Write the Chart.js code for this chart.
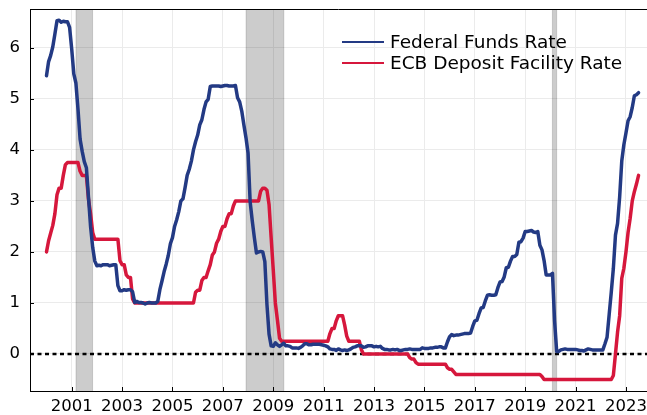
<!DOCTYPE html>
<html>
<head>
<meta charset="utf-8">
<script src="https://cdn.jsdelivr.net/npm/chart.js@4"></script>
<style>
  html, body { margin: 0; padding: 0; background: #fff; }
  #wrap { width: 647px; height: 415px; position: relative; }
</style>
</head>
<body>
<div id="wrap"><canvas id="rates"></canvas></div>
<script>
// Monthly averages, Jan 2000 .. Jul 2023
const startYear = 2000;

const fedFunds = [
    5.45, 5.73, 5.85, 6.02, 6.27, 6.53, 6.54, 6.50, 6.52, 6.51, 6.51, 6.40, // 2000
    5.98, 5.49, 5.31, 4.80, 4.21, 3.97, 3.77, 3.65, 3.07, 2.49, 2.09, 1.82, // 2001
    1.73, 1.74, 1.73, 1.75, 1.75, 1.75, 1.73, 1.74, 1.75, 1.75, 1.34, 1.24, // 2002
    1.24, 1.26, 1.25, 1.26, 1.26, 1.22, 1.01, 1.03, 1.01, 1.01, 1.00, 0.98, // 2003
    1.00, 1.01, 1.00, 1.00, 1.00, 1.03, 1.26, 1.43, 1.61, 1.76, 1.93, 2.16, // 2004
    2.28, 2.50, 2.63, 2.79, 3.00, 3.04, 3.26, 3.50, 3.62, 3.78, 4.00, 4.16, // 2005
    4.29, 4.49, 4.59, 4.79, 4.94, 4.99, 5.24, 5.25, 5.25, 5.25, 5.25, 5.24, // 2006
    5.25, 5.26, 5.26, 5.25, 5.25, 5.25, 5.26, 5.02, 4.94, 4.76, 4.49, 4.24, // 2007
    3.94, 2.98, 2.61, 2.28, 1.98, 2.00, 2.01, 2.00, 1.81, 0.97, 0.39, 0.16, // 2008
    0.15, 0.22, 0.18, 0.15, 0.18, 0.21, 0.16, 0.16, 0.15, 0.12, 0.12, 0.12, // 2009
    0.11, 0.13, 0.16, 0.20, 0.20, 0.18, 0.18, 0.19, 0.19, 0.19, 0.19, 0.18, // 2010
    0.17, 0.16, 0.14, 0.10, 0.09, 0.09, 0.07, 0.10, 0.08, 0.07, 0.08, 0.07, // 2011
    0.08, 0.10, 0.13, 0.14, 0.16, 0.16, 0.16, 0.13, 0.14, 0.16, 0.16, 0.16, // 2012
    0.14, 0.15, 0.14, 0.15, 0.11, 0.09, 0.09, 0.08, 0.08, 0.09, 0.08, 0.09, // 2013
    0.07, 0.07, 0.08, 0.09, 0.09, 0.10, 0.09, 0.09, 0.09, 0.09, 0.09, 0.12, // 2014
    0.11, 0.11, 0.11, 0.12, 0.12, 0.13, 0.13, 0.14, 0.14, 0.12, 0.12, 0.24, // 2015
    0.34, 0.38, 0.36, 0.37, 0.37, 0.38, 0.39, 0.40, 0.40, 0.40, 0.41, 0.54, // 2016
    0.65, 0.66, 0.79, 0.90, 0.91, 1.04, 1.15, 1.16, 1.15, 1.15, 1.16, 1.30, // 2017
    1.41, 1.42, 1.51, 1.69, 1.70, 1.82, 1.91, 1.91, 1.95, 2.19, 2.20, 2.27, // 2018
    2.40, 2.40, 2.41, 2.42, 2.39, 2.38, 2.40, 2.13, 2.04, 1.83, 1.55, 1.55, // 2019
    1.55, 1.58, 0.65, 0.05, 0.05, 0.08, 0.09, 0.10, 0.09, 0.09, 0.09, 0.09, // 2020
    0.09, 0.08, 0.07, 0.07, 0.06, 0.08, 0.10, 0.09, 0.08, 0.08, 0.08, 0.08, // 2021
    0.08, 0.08, 0.20, 0.33, 0.77, 1.21, 1.68, 2.33, 2.56, 3.08, 3.78, 4.10, // 2022
    4.33, 4.57, 4.65, 4.83, 5.06, 5.08, 5.12                                // 2023
];

const ecbDeposit = [
    2.00, 2.22, 2.37, 2.52, 2.75, 3.12, 3.25, 3.25, 3.50, 3.71, 3.75, 3.75, // 2000
    3.75, 3.75, 3.75, 3.75, 3.58, 3.50, 3.50, 3.49, 3.03, 2.75, 2.38, 2.25, // 2001
    2.25, 2.25, 2.25, 2.25, 2.25, 2.25, 2.25, 2.25, 2.25, 2.25, 2.25, 1.83, // 2002
    1.75, 1.75, 1.55, 1.50, 1.50, 1.08, 1.00, 1.00, 1.00, 1.00, 1.00, 1.00, // 2003
    1.00, 1.00, 1.00, 1.00, 1.00, 1.00, 1.00, 1.00, 1.00, 1.00, 1.00, 1.00, // 2004
    1.00, 1.00, 1.00, 1.00, 1.00, 1.00, 1.00, 1.00, 1.00, 1.00, 1.00, 1.21, // 2005
    1.25, 1.25, 1.44, 1.50, 1.50, 1.63, 1.75, 1.94, 2.00, 2.17, 2.25, 2.40, // 2006
    2.50, 2.50, 2.65, 2.75, 2.75, 2.90, 3.00, 3.00, 3.00, 3.00, 3.00, 3.00, // 2007
    3.00, 3.00, 3.00, 3.00, 3.00, 3.00, 3.19, 3.25, 3.25, 3.21, 2.93, 2.28, // 2008
    1.65, 1.00, 0.66, 0.31, 0.25, 0.25, 0.25, 0.25, 0.25, 0.25, 0.25, 0.25, // 2009
    0.25, 0.25, 0.25, 0.25, 0.25, 0.25, 0.25, 0.25, 0.25, 0.25, 0.25, 0.25, // 2010
    0.25, 0.25, 0.25, 0.40, 0.50, 0.50, 0.65, 0.75, 0.75, 0.75, 0.57, 0.35, // 2011
    0.25, 0.25, 0.25, 0.25, 0.25, 0.25, 0.08, 0.00, 0.00, 0.00, 0.00, 0.00, // 2012
    0.00, 0.00, 0.00, 0.00, 0.00, 0.00, 0.00, 0.00, 0.00, 0.00, 0.00, 0.00, // 2013
    0.00, 0.00, 0.00, 0.00, 0.00, -0.07, -0.10, -0.10, -0.17, -0.20, -0.20, -0.20, // 2014
    -0.20, -0.20, -0.20, -0.20, -0.20, -0.20, -0.20, -0.20, -0.20, -0.20, -0.20, -0.27, // 2015
    -0.30, -0.30, -0.35, -0.40, -0.40, -0.40, -0.40, -0.40, -0.40, -0.40, -0.40, -0.40, // 2016
    -0.40, -0.40, -0.40, -0.40, -0.40, -0.40, -0.40, -0.40, -0.40, -0.40, -0.40, -0.40, // 2017
    -0.40, -0.40, -0.40, -0.40, -0.40, -0.40, -0.40, -0.40, -0.40, -0.40, -0.40, -0.40, // 2018
    -0.40, -0.40, -0.40, -0.40, -0.40, -0.40, -0.40, -0.40, -0.44, -0.50, -0.50, -0.50, // 2019
    -0.50, -0.50, -0.50, -0.50, -0.50, -0.50, -0.50, -0.50, -0.50, -0.50, -0.50, -0.50, // 2020
    -0.50, -0.50, -0.50, -0.50, -0.50, -0.50, -0.50, -0.50, -0.50, -0.50, -0.50, -0.50, // 2021
    -0.50, -0.50, -0.50, -0.50, -0.50, -0.50, -0.42, 0.00, 0.43, 0.75, 1.48, 1.68, // 2022
    2.00, 2.38, 2.66, 3.00, 3.18, 3.33, 3.50                                // 2023
];

// US recessions (NBER), as decimal years
const recessions = [[2001.17, 2001.83], [2007.92, 2009.42], [2020.08, 2020.25]];

const xTicks = [2001, 2003, 2005, 2007, 2009, 2011, 2013, 2015, 2017, 2019, 2021, 2023];
const yTicks = [0, 1, 2, 3, 4, 5, 6];

const fedColor = '#233a84';
const ecbColor = '#d6173c';
const font = "'DejaVu Sans', sans-serif";

function toPoints(values) {
    return values.map((v, i) => ({ x: startYear + i / 12, y: v }));
}

// Recession bands and the dotted zero line go under the series
const underlayPlugin = {
    id: 'underlay',
    beforeDatasetsDraw(chart) {
        const { ctx, chartArea: a, scales: { x, y } } = chart;
        ctx.save();
        ctx.beginPath();
        ctx.rect(a.left, a.top, a.right - a.left, a.bottom - a.top);
        ctx.clip();

        recessions.forEach(([from, to]) => {
            const x0 = x.getPixelForValue(from);
            const x1 = x.getPixelForValue(to);
            ctx.fillStyle = 'rgba(0, 0, 0, 0.2)';
            ctx.fillRect(x0, a.top, x1 - x0, a.bottom - a.top);
            ctx.strokeStyle = 'rgba(0, 0, 0, 0.15)';
            ctx.lineWidth = 1;
            ctx.beginPath();
            ctx.moveTo(x0, a.top); ctx.lineTo(x0, a.bottom);
            ctx.moveTo(x1, a.top); ctx.lineTo(x1, a.bottom);
            ctx.stroke();
        });

        const y0 = y.getPixelForValue(0);
        ctx.strokeStyle = '#000';
        ctx.lineWidth = 2.5;
        ctx.setLineDash([4, 3.5]);
        ctx.beginPath();
        ctx.moveTo(a.left, y0);
        ctx.lineTo(a.right, y0);
        ctx.stroke();
        ctx.restore();
    }
};

// Top frame, inside tick marks and the legend
const overlayPlugin = {
    id: 'overlay',
    afterDraw(chart) {
        const { ctx, chartArea: a, scales: { x, y } } = chart;
        ctx.save();
        ctx.strokeStyle = '#000';
        ctx.lineWidth = 1;
        ctx.beginPath();
        ctx.moveTo(a.left, a.top + 0.5);
        ctx.lineTo(a.right, a.top + 0.5);
        xTicks.forEach(t => {
            const px = Math.round(x.getPixelForValue(t)) + 0.5;
            ctx.moveTo(px, a.bottom);
            ctx.lineTo(px, a.bottom - 4);
        });
        yTicks.forEach(t => {
            const py = Math.round(y.getPixelForValue(t)) + 0.5;
            ctx.moveTo(a.left, py);
            ctx.lineTo(a.left + 4, py);
        });
        ctx.stroke();

        // legend
        ctx.font = '18.5px ' + font;
        ctx.textBaseline = 'middle';
        ctx.fillStyle = '#000';
        chart.data.datasets.forEach((ds, i) => {
            const ly = 42 + i * 21;
            ctx.strokeStyle = ds.borderColor;
            ctx.lineWidth = 2;
            ctx.beginPath();
            ctx.moveTo(342, ly);
            ctx.lineTo(384, ly);
            ctx.stroke();
            ctx.fillText(ds.label, 390, ly + 1);
        });
        ctx.restore();
    }
};

new Chart(document.getElementById('rates'), {
    type: 'line',
    data: {
        datasets: [
            {
                label: 'Federal Funds Rate',
                data: toPoints(fedFunds),
                borderColor: fedColor,
                borderWidth: 3.5,
                pointRadius: 0,
                tension: 0,
                borderJoinStyle: 'round',
                borderCapStyle: 'round'
            },
            {
                label: 'ECB Deposit Facility Rate',
                data: toPoints(ecbDeposit),
                borderColor: ecbColor,
                borderWidth: 3.5,
                pointRadius: 0,
                tension: 0,
                borderJoinStyle: 'round',
                borderCapStyle: 'round'
            }
        ]
    },
    options: {
        responsive: true,
        maintainAspectRatio: false,
        animation: false,
        layout: { padding: { top: 9, right: 0, left: 0, bottom: 0 } },
        plugins: {
            legend: { display: false },
            tooltip: { enabled: false }
        },
        scales: {
            x: {
                type: 'linear',
                min: 1999.345,
                max: 2023.835,
                afterBuildTicks: scale => { scale.ticks = xTicks.map(v => ({ value: v })); },
                afterFit: scale => {
                    scale.height = 24;
                    scale.paddingLeft = 0;
                    scale.paddingRight = 0;
                },
                grid: { color: '#ebebeb', drawTicks: false },
                border: { display: true, color: '#000', width: 1 },
                ticks: {
                    color: '#000',
                    padding: 6,
                    maxRotation: 0,
                    autoSkip: false,
                    font: { family: font, size: 16.5 },
                    callback: v => String(v)
                }
            },
            y: {
                min: -0.725,
                max: 6.76,
                afterBuildTicks: scale => { scale.ticks = yTicks.map(v => ({ value: v })); },
                afterFit: scale => {
                    scale.width = 30;
                    scale.paddingTop = 0;
                    scale.paddingBottom = 0;
                },
                grid: { color: '#ebebeb', drawTicks: false },
                border: { display: true, color: '#000', width: 1 },
                ticks: {
                    color: '#000',
                    padding: 10,
                    font: { family: font, size: 16.5 },
                    callback: v => String(v)
                }
            }
        }
    },
    plugins: [underlayPlugin, overlayPlugin]
});
</script>
</body>
</html>
